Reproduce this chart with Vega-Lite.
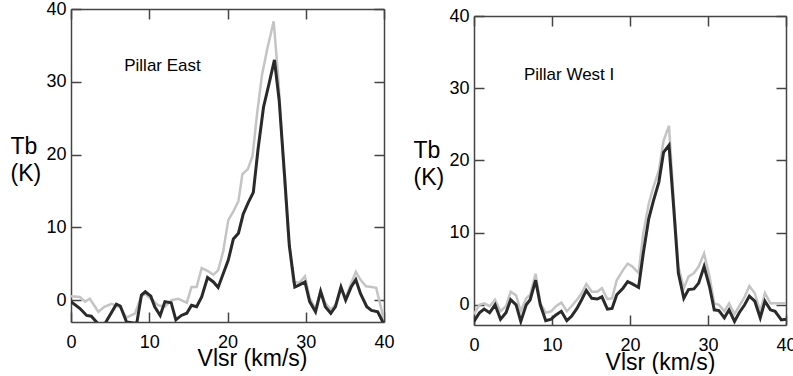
{
  "$schema": "https://vega.github.io/schema/vega-lite/v6.json",
  "padding": {"left": 10, "top": 0, "right": 0, "bottom": 0},
  "spacing": 18,
  "background": "white",
  "config": {
    "font": "Liberation Sans",
    "view": {"stroke": null},
    "axis": {
      "domainColor": "#444", "domainWidth": 1.5,
      "tickColor": "#444", "tickWidth": 1.5, "tickSize": -10,
      "labelFontSize": 18, "labelColor": "#000", "labelFont": "Liberation Sans",
      "titleFont": "Liberation Sans", "titleFontWeight": "normal", "titleColor": "#000",
      "grid": false
    }
  },
  "datasets": {
    "eastGray": [
      {"v":0,"tb":0.55},{"v":1.15,"tb":0.45},{"v":1.8,"tb":-0.2},{"v":2.4,"tb":0.2},{"v":3.5,"tb":-1.6},{"v":4.25,"tb":-0.9},{"v":5.2,"tb":-0.5},{"v":6.3,"tb":-1.0},{"v":7.1,"tb":-2.4},{"v":8.2,"tb":-1.8},{"v":8.9,"tb":0.35},{"v":9.4,"tb":0.9},{"v":10.2,"tb":0.2},{"v":11.15,"tb":-0.7},{"v":12.0,"tb":-0.9},{"v":12.85,"tb":0},{"v":13.7,"tb":0.2},{"v":14.8,"tb":-0.35},{"v":15.4,"tb":1.8},{"v":16.05,"tb":1.8},{"v":16.7,"tb":4.4},{"v":17.5,"tb":4.0},{"v":18.2,"tb":3.5},{"v":18.8,"tb":4.1},{"v":19.45,"tb":6.7},{"v":20.1,"tb":11.0},{"v":20.75,"tb":12.2},{"v":21.4,"tb":13.6},{"v":21.9,"tb":17.3},{"v":22.6,"tb":18.0},{"v":23.2,"tb":19.8},{"v":23.8,"tb":25.8},{"v":24.4,"tb":30.9},{"v":25.1,"tb":34.6},{"v":25.9,"tb":38.3},{"v":26.5,"tb":30.4},{"v":27.1,"tb":19.4},{"v":27.75,"tb":9.2},{"v":28.4,"tb":2.5},{"v":29.2,"tb":2.4},{"v":29.9,"tb":3.3},{"v":30.5,"tb":0.3},{"v":31.25,"tb":-1.2},{"v":31.9,"tb":1.3},{"v":32.5,"tb":-0.4},{"v":33.2,"tb":-1.3},{"v":33.8,"tb":-0.6},{"v":34.5,"tb":1.6},{"v":35.1,"tb":0.3},{"v":35.8,"tb":2.3},{"v":36.4,"tb":3.9},{"v":37.0,"tb":2.8},{"v":37.7,"tb":1.9},{"v":38.4,"tb":1.8},{"v":39.0,"tb":1.7},{"v":39.7,"tb":-1.4},{"v":40,"tb":-2.8}
    ],
    "eastDark": [
      {"v":0,"tb":-0.2},{"v":1.15,"tb":-1.15},{"v":2.0,"tb":-2.1},{"v":2.6,"tb":-2.2},{"v":3.5,"tb":-3.3},{"v":4.3,"tb":-3.3},{"v":5.8,"tb":-0.55},{"v":6.3,"tb":-0.8},{"v":7.1,"tb":-3.0},{"v":8.4,"tb":-3.2},{"v":9.0,"tb":0.7},{"v":9.5,"tb":1.15},{"v":10.2,"tb":0.55},{"v":10.7,"tb":-0.9},{"v":11.4,"tb":-2.1},{"v":12.0,"tb":-0.2},{"v":12.8,"tb":-0.35},{"v":13.4,"tb":-2.7},{"v":14.1,"tb":-2.1},{"v":14.8,"tb":-1.8},{"v":15.4,"tb":-0.7},{"v":16.05,"tb":-0.9},{"v":16.7,"tb":0.45},{"v":17.45,"tb":3.1},{"v":18.2,"tb":2.5},{"v":18.8,"tb":1.75},{"v":20.1,"tb":5.5},{"v":20.75,"tb":8.4},{"v":21.4,"tb":9.2},{"v":22.0,"tb":11.8},{"v":22.65,"tb":13.4},{"v":23.3,"tb":14.8},{"v":23.9,"tb":20.7},{"v":24.6,"tb":26.5},{"v":25.3,"tb":29.7},{"v":26.0,"tb":33.0},{"v":26.6,"tb":27.5},{"v":27.3,"tb":17.0},{"v":27.9,"tb":7.5},{"v":28.6,"tb":1.8},{"v":29.2,"tb":2.1},{"v":29.9,"tb":2.5},{"v":30.5,"tb":-0.2},{"v":31.25,"tb":-1.6},{"v":31.9,"tb":1.2},{"v":32.5,"tb":-0.9},{"v":33.2,"tb":-1.8},{"v":33.8,"tb":-0.9},{"v":34.5,"tb":1.8},{"v":35.1,"tb":0},{"v":35.8,"tb":1.8},{"v":36.4,"tb":2.8},{"v":37.0,"tb":0.9},{"v":37.8,"tb":-0.9},{"v":38.4,"tb":-1.4},{"v":39.2,"tb":-1.6},{"v":39.8,"tb":-2.9},{"v":40,"tb":-3.2}
    ],
    "westGray": [
      {"v":0,"tb":-1.3},{"v":0.7,"tb":0},{"v":1.3,"tb":0.2},{"v":2.0,"tb":-0.2},{"v":2.7,"tb":0.7},{"v":3.4,"tb":-0.9},{"v":4.1,"tb":-0.2},{"v":4.7,"tb":1.8},{"v":5.4,"tb":1.3},{"v":6.0,"tb":-0.9},{"v":6.7,"tb":0.9},{"v":7.2,"tb":1.4},{"v":7.9,"tb":4.3},{"v":8.5,"tb":0.2},{"v":9.2,"tb":-1.1},{"v":9.9,"tb":-0.9},{"v":10.5,"tb":-0.2},{"v":11.2,"tb":0.3},{"v":11.9,"tb":-0.9},{"v":12.5,"tb":-0.2},{"v":13.2,"tb":0.7},{"v":13.8,"tb":1.6},{"v":14.4,"tb":2.9},{"v":15.1,"tb":1.8},{"v":15.8,"tb":1.8},{"v":16.4,"tb":2.3},{"v":17.1,"tb":0.8},{"v":17.7,"tb":0.9},{"v":18.3,"tb":3.4},{"v":19.1,"tb":4.8},{"v":19.7,"tb":5.7},{"v":20.3,"tb":5.3},{"v":21.1,"tb":4.4},{"v":21.7,"tb":9.9},{"v":22.4,"tb":14.0},{"v":23.0,"tb":16.3},{"v":23.7,"tb":18.6},{"v":24.3,"tb":22.7},{"v":25.0,"tb":24.8},{"v":25.6,"tb":14.4},{"v":26.2,"tb":5.3},{"v":26.9,"tb":2.3},{"v":27.5,"tb":3.9},{"v":28.2,"tb":4.4},{"v":28.8,"tb":5.3},{"v":29.5,"tb":7.1},{"v":30.2,"tb":3.9},{"v":30.8,"tb":0.2},{"v":31.4,"tb":0},{"v":32.1,"tb":-0.9},{"v":32.7,"tb":0.2},{"v":33.4,"tb":-1.3},{"v":34.0,"tb":-0.2},{"v":34.7,"tb":1.1},{"v":35.3,"tb":2.6},{"v":36.0,"tb":1.6},{"v":36.7,"tb":-0.9},{"v":37.3,"tb":1.6},{"v":38.0,"tb":0.2},{"v":38.6,"tb":0.2},{"v":39.4,"tb":0.2},{"v":40,"tb":0.2}
    ],
    "westDark": [
      {"v":0,"tb":-2.3},{"v":0.7,"tb":-1.1},{"v":1.3,"tb":-0.6},{"v":2.0,"tb":-1.1},{"v":2.7,"tb":0},{"v":3.4,"tb":-2.0},{"v":4.1,"tb":-1.1},{"v":4.7,"tb":0.7},{"v":5.4,"tb":0},{"v":6.0,"tb":-2.3},{"v":6.7,"tb":0},{"v":7.2,"tb":0.7},{"v":7.9,"tb":3.4},{"v":8.5,"tb":0},{"v":9.2,"tb":-2.2},{"v":9.9,"tb":-2.0},{"v":10.5,"tb":-1.4},{"v":11.2,"tb":-0.9},{"v":11.9,"tb":-2.2},{"v":12.5,"tb":-1.6},{"v":13.2,"tb":-0.5},{"v":13.8,"tb":0.7},{"v":14.4,"tb":2.0},{"v":15.1,"tb":0.9},{"v":15.8,"tb":0.8},{"v":16.4,"tb":1.1},{"v":17.1,"tb":-0.6},{"v":17.7,"tb":-0.5},{"v":18.3,"tb":1.4},{"v":19.1,"tb":2.3},{"v":19.7,"tb":3.2},{"v":20.3,"tb":2.9},{"v":21.1,"tb":2.4},{"v":21.7,"tb":7.1},{"v":22.4,"tb":11.9},{"v":23.0,"tb":14.4},{"v":23.7,"tb":17.0},{"v":24.3,"tb":21.1},{"v":25.0,"tb":22.1},{"v":25.6,"tb":13.5},{"v":26.2,"tb":4.4},{"v":26.9,"tb":0.9},{"v":27.5,"tb":2.1},{"v":28.2,"tb":2.2},{"v":28.8,"tb":3.0},{"v":29.5,"tb":5.3},{"v":30.2,"tb":2.5},{"v":30.8,"tb":-0.7},{"v":31.4,"tb":-0.8},{"v":32.1,"tb":-1.8},{"v":32.7,"tb":-0.7},{"v":33.4,"tb":-2.3},{"v":34.0,"tb":-1.1},{"v":34.7,"tb":0},{"v":35.3,"tb":1.2},{"v":36.0,"tb":0.5},{"v":36.7,"tb":-1.8},{"v":37.3,"tb":0.5},{"v":38.0,"tb":-0.7},{"v":38.6,"tb":-0.9},{"v":39.4,"tb":-2.1},{"v":40,"tb":-2.0}
    ],
    "eastLabel": [{"v":6.8,"tb":32.2,"label":"Pillar East"}],
    "westLabel": [{"v":6.4,"tb":31.8,"label":"Pillar West I"}]
  },
  "hconcat": [
    {
      "width": 313,
      "height": 313,
      "layer": [
        {
          "data": {"name": "eastGray"},
          "mark": {"type": "line", "color": "#c4c4c4", "strokeWidth": 2.5, "clip": true},
          "encoding": {
            "x": {"field": "v", "type": "quantitative", "scale": {"domain": [0, 40], "nice": false},
                  "axis": {"orient": "bottom", "values": [0, 10, 20, 30, 40], "labelFlush": false, "labelPadding": 21,
                           "title": "Vlsr (km/s)", "titleFontSize": 23, "titleX": 181, "titleY": 36, "titleBaseline": "middle", "titleAlign": "center"}},
            "y": {"field": "tb", "type": "quantitative", "scale": {"domain": [-3, 40], "nice": false, "zero": false},
                  "axis": {"orient": "left", "values": [0, 10, 20, 30, 40], "labelPadding": 15,
                           "title": ["Tb", "(K)"], "titleAngle": 0, "titleX": -61, "titleY": 137, "titleAlign": "left", "titleBaseline": "middle", "titleFontSize": 23, "titleLineHeight": 27}}
          }
        },
        {
          "data": {"name": "eastDark"},
          "mark": {"type": "line", "color": "#2a2a2a", "strokeWidth": 3, "clip": true},
          "encoding": {
            "x": {"field": "v", "type": "quantitative", "axis": {"orient": "top", "values": [0, 10, 20, 30, 40], "labels": false, "title": null}},
            "y": {"field": "tb", "type": "quantitative", "axis": {"orient": "right", "values": [0, 10, 20, 30, 40], "labels": false, "title": null}}
          }
        },
        {
          "data": {"name": "eastLabel"},
          "mark": {"type": "text", "align": "left", "baseline": "middle", "fontSize": 17, "color": "#000"},
          "encoding": {
            "x": {"field": "v", "type": "quantitative", "axis": null},
            "y": {"field": "tb", "type": "quantitative", "axis": null},
            "text": {"field": "label"}
          }
        }
      ],
      "resolve": {"axis": {"x": "independent", "y": "independent"}}
    },
    {
      "width": 312,
      "height": 316,
      "layer": [
        {
          "data": {"name": "westGray"},
          "mark": {"type": "line", "color": "#c4c4c4", "strokeWidth": 2.5, "clip": true},
          "encoding": {
            "x": {"field": "v", "type": "quantitative", "scale": {"domain": [0, 40], "nice": false},
                  "axis": {"orient": "bottom", "values": [0, 10, 20, 30, 40], "labelFlush": false, "labelPadding": 21,
                           "title": "Vlsr (km/s)", "titleFontSize": 23, "titleX": 186, "titleY": 37, "titleBaseline": "middle", "titleAlign": "center"}},
            "y": {"field": "tb", "type": "quantitative", "scale": {"domain": [-2.8, 40], "range": [316, 7], "nice": false, "zero": false},
                  "axis": {"orient": "left", "values": [0, 10, 20, 30, 40], "labelPadding": 15,
                           "title": ["Tb", "(K)"], "titleAngle": 0, "titleX": -61, "titleY": 141, "titleAlign": "left", "titleBaseline": "middle", "titleFontSize": 23, "titleLineHeight": 27}}
          }
        },
        {
          "data": {"name": "westDark"},
          "mark": {"type": "line", "color": "#2a2a2a", "strokeWidth": 3, "clip": true},
          "encoding": {
            "x": {"field": "v", "type": "quantitative", "axis": {"orient": "top", "offset": -7, "values": [0, 10, 20, 30, 40], "labels": false, "title": null}},
            "y": {"field": "tb", "type": "quantitative", "axis": {"orient": "right", "values": [0, 10, 20, 30, 40], "labels": false, "title": null}}
          }
        },
        {
          "data": {"name": "westLabel"},
          "mark": {"type": "text", "align": "left", "baseline": "middle", "fontSize": 17, "color": "#000"},
          "encoding": {
            "x": {"field": "v", "type": "quantitative", "axis": null},
            "y": {"field": "tb", "type": "quantitative", "axis": null},
            "text": {"field": "label"}
          }
        }
      ],
      "resolve": {"axis": {"x": "independent", "y": "independent"}}
    }
  ]
}
